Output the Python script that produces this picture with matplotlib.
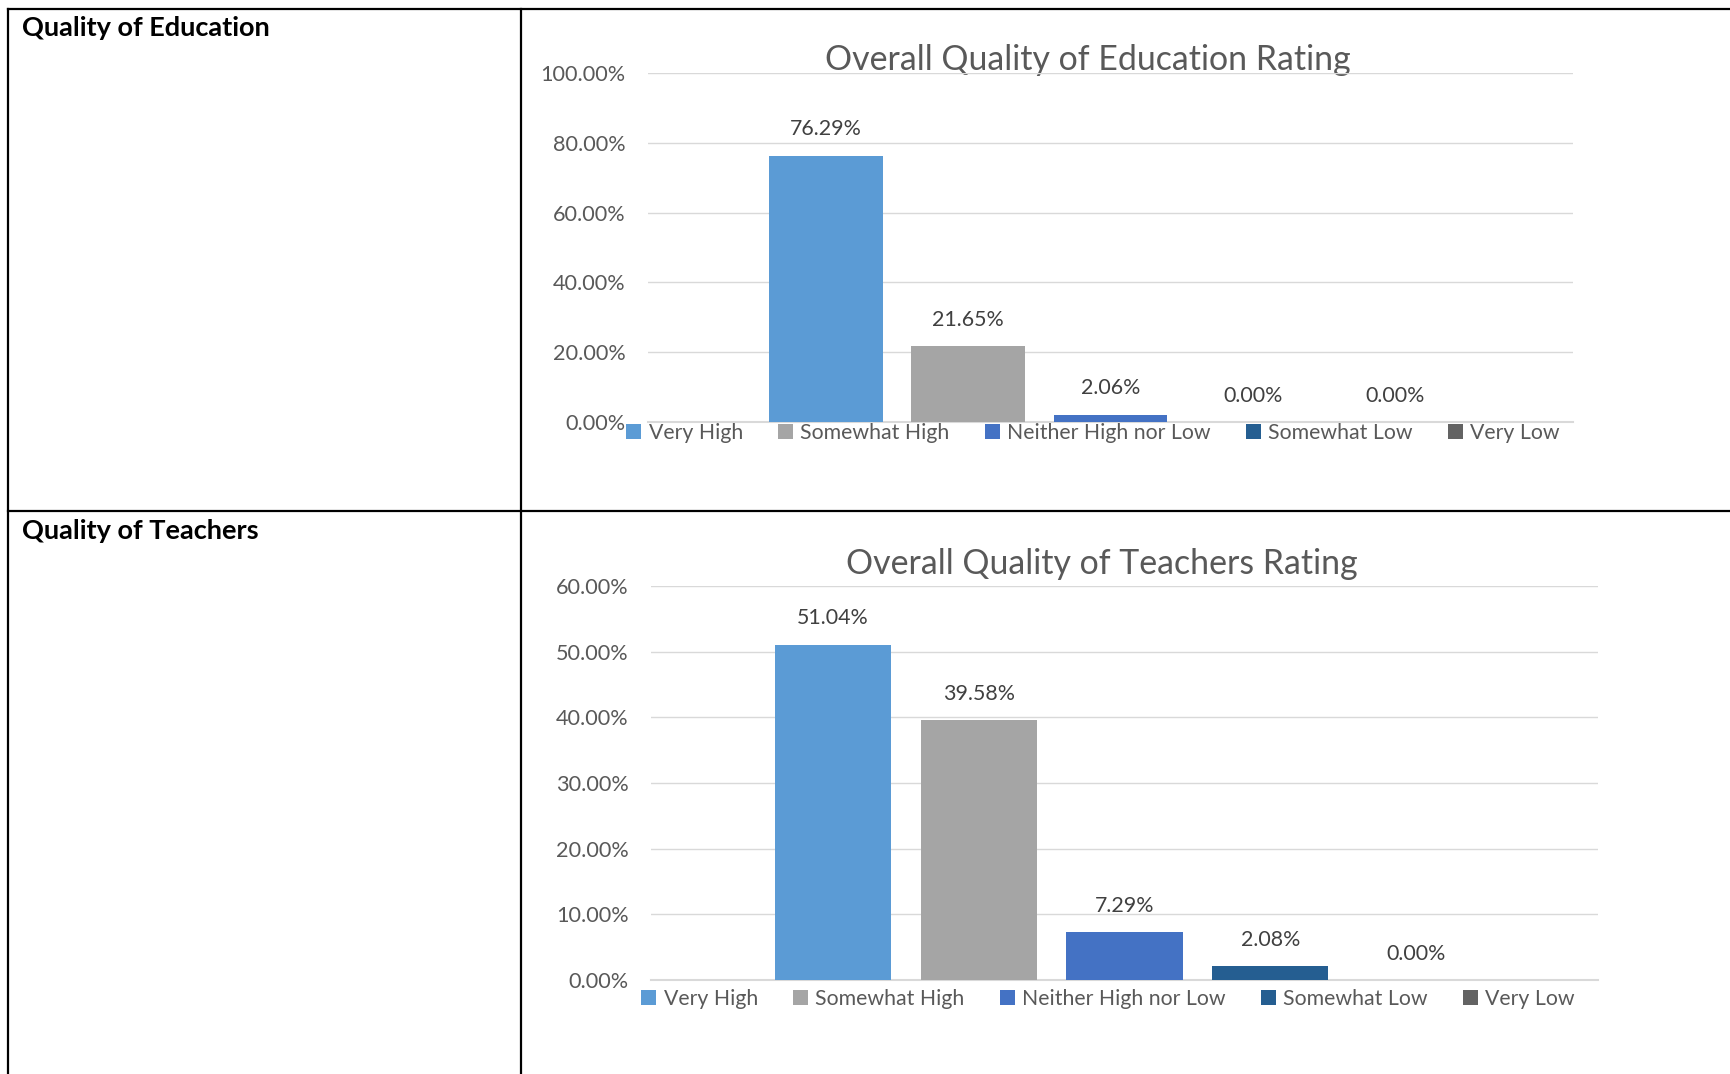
import matplotlib
matplotlib.use('Agg')
import matplotlib.pyplot as plt
from matplotlib.patches import Patch
from matplotlib.ticker import FuncFormatter, MultipleLocator

plt.rcParams['font.family'] = ['Lato', 'DejaVu Sans']

categories = ['Very High', 'Somewhat High', 'Neither High nor Low', 'Somewhat Low', 'Very Low']
colors = ['#5B9BD5', '#A5A5A5', '#4472C4', '#255E91', '#636363']
education = [76.29, 21.65, 2.06, 0.00, 0.00]
teachers = [51.04, 39.58, 7.29, 2.08, 0.00]

W, H = 1731, 1074
fig = plt.figure(figsize=(W / 100, H / 100), dpi=100)

# table drawn in pixel coordinates
bg = fig.add_axes([0, 0, 1, 1])
bg.set_xlim(0, W)
bg.set_ylim(H, 0)
bg.axis('off')
bg.plot([8, W], [9, 9], color='black', lw=1.6)
bg.plot([8, W], [511, 511], color='black', lw=1.6)
bg.plot([8, 8], [9, H], color='black', lw=1.6)
bg.plot([521, 521], [9, H], color='black', lw=1.6)
bg.text(22, 28, 'Quality of Education', fontsize=19.5, fontweight='bold', va='center', ha='left')
bg.text(22, 531, 'Quality of Teachers', fontsize=19.5, fontweight='bold', va='center', ha='left')


def px_rect(x0, x1, ytop, ybot):
    return [x0 / W, 1 - ybot / H, (x1 - x0) / W, (ybot - ytop) / H]


def draw_chart(rect, values, ymax, step, title, title_xy, legend_xy):
    ax = fig.add_axes(rect)
    ax.patch.set_alpha(0)
    x = list(range(len(values)))
    ax.bar(x, values, width=0.8, color=colors, zorder=3)
    for xi, v in zip(x, values):
        ax.annotate('{:.2f}%'.format(v), (xi, v), xytext=(0, 19), textcoords='offset points',
                    ha='center', va='center', fontsize=15.4, color='#404040')
    ax.set_xlim(-1.25, 5.25)
    ax.set_ylim(0, ymax)
    ax.yaxis.set_major_locator(MultipleLocator(step))
    ax.yaxis.set_major_formatter(FuncFormatter(lambda v, p: '{:.2f}%'.format(v)))
    ax.grid(axis='y', color='#D9D9D9', lw=1, zorder=0)
    ax.set_xticks([])
    ax.tick_params(axis='y', length=0, labelsize=15.6, labelcolor='#595959', pad=16)
    for s in ['top', 'right', 'left']:
        ax.spines[s].set_visible(False)
    ax.spines['bottom'].set_color('#D9D9D9')
    ax.spines['bottom'].set_linewidth(1.5)
    bg.text(title_xy[0], title_xy[1], title, fontsize=24.4, color='#595959', ha='center', va='center')
    handles = [Patch(facecolor=c, edgecolor='none') for c in colors]
    fig.legend(handles, categories, loc='center', ncol=5, frameon=False,
               bbox_to_anchor=(legend_xy[0] / W, 1 - legend_xy[1] / H),
               fontsize=15.3, labelcolor='#595959', handlelength=0.7, handleheight=0.7,
               handletextpad=0.35, columnspacing=1.65, borderpad=0)
    return ax


draw_chart(px_rect(648, 1573, 73, 422), education, 100, 20,
           'Overall Quality of Education Rating', (1088, 60), (1093, 433))
draw_chart(px_rect(651, 1598, 586, 980), teachers, 60, 10,
           'Overall Quality of Teachers Rating', (1102, 564), (1108, 999))

fig.savefig('out.png', dpi=100)
